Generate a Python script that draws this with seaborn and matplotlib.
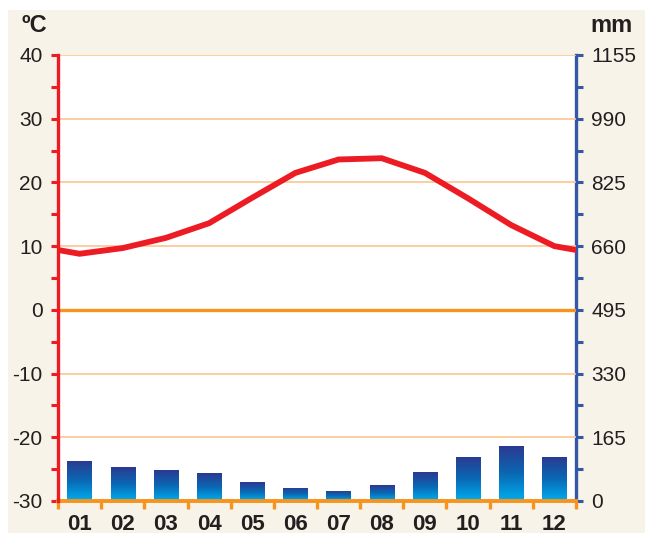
import matplotlib
matplotlib.use("Agg")
import matplotlib.pyplot as plt
import seaborn as sns
import numpy as np
import pandas as pd
from matplotlib.colors import LinearSegmentedColormap
from matplotlib.patches import Rectangle
from matplotlib.ticker import MultipleLocator, FixedLocator

months = ["01", "02", "03", "04", "05", "06", "07", "08", "09", "10", "11", "12"]
temperature = [8.8, 9.7, 11.3, 13.6, 17.6, 21.5, 23.6, 23.8, 21.5, 17.5, 13.3, 10.0]
precipitation = [104, 88, 80, 72, 49, 34, 26, 41, 75, 114, 142, 114]
temp_ticks = [-30, -20, -10, 0, 10, 20, 30, 40]
mm_ticks = [0, 165, 330, 495, 660, 825, 990, 1155]

sns.set_theme(style="white")
plt.rcParams["font.family"] = ["Liberation Sans", "DejaVu Sans"]

RED = "#ed1c24"
BLUE = "#3458a8"
ORANGE = "#f7941d"
GRID = "#fcc690"
TEXT = "#231f20"
BEIGE = "#f7f3e8"

fig = plt.figure(figsize=(6.45, 5.33), dpi=100, facecolor="white")
fig.patches.append(Rectangle((8 / 645, 0), 1, 523 / 533, transform=fig.transFigure,
                             facecolor=BEIGE, edgecolor="none", zorder=-10))

ax = fig.add_axes([58 / 645, 32 / 533, 518 / 645, 446 / 533])
ax2 = ax.twinx()
ax2.set_zorder(ax.get_zorder() - 1)
ax.set_zorder(ax2.get_zorder() + 1)
ax.patch.set_visible(False)
ax2.patch.set_visible(True)
ax2.patch.set_facecolor("white")

# Bars (precipitation)
dfp = pd.DataFrame({"month": months, "mm": precipitation})
sns.barplot(data=dfp, x="month", y="mm", ax=ax2, width=0.56, color="#0a5aa8",
            edgecolor="none", linewidth=0, zorder=2)

cmap = LinearSegmentedColormap.from_list("g", ["#00aeef", "#0a68b4", "#2b3990"])
grad = np.linspace(0, 1, 256).reshape(-1, 1)
for p in list(ax2.patches):
    x0, y0 = p.get_x(), p.get_y()
    w, h = p.get_width(), p.get_height()
    im = ax2.imshow(grad, extent=[x0, x0 + w, y0, y0 + h], origin="lower",
                    aspect="auto", cmap=cmap, zorder=3)
    im.set_clip_path(p)

# Temperature line, extended to edges with Dec/Jan mean
edge = (temperature[0] + temperature[-1]) / 2
dft = pd.DataFrame({"x": [-0.5] + list(range(12)) + [11.5],
                    "t": [edge] + temperature + [edge]})
sns.lineplot(data=dft, x="x", y="t", ax=ax, color=RED, linewidth=4.2,
             solid_joinstyle="miter", zorder=5)

# grid lines
for t in temp_ticks:
    if t == 0:
        ax.axhline(t, color=ORANGE, linewidth=2.4, zorder=4)
    elif t != -30:
        ax.axhline(t, color=GRID, linewidth=1.2, zorder=1)

ax.set_xlim(-0.5, 11.5)
ax2.set_xlim(-0.5, 11.5)
ax.set_ylim(-30, 40)
ax2.set_ylim(0, 1155)

ax.set_xlabel("")
ax.set_ylabel("")
ax2.set_xlabel("")
ax2.set_ylabel("")

# spines
for s in ["top"]:
    ax.spines[s].set_visible(False)
    ax2.spines[s].set_visible(False)
ax.spines["right"].set_visible(False)
ax2.spines["left"].set_visible(False)
ax2.spines["bottom"].set_visible(False)
ax.spines["left"].set_color(RED)
ax.spines["left"].set_linewidth(2.4)
ax2.spines["right"].set_color(BLUE)
ax2.spines["right"].set_linewidth(2.4)
ax.spines["bottom"].set_color(ORANGE)
ax.spines["bottom"].set_linewidth(2.8)
ax.spines["left"].set_zorder(6)
ax.spines["bottom"].set_zorder(5)

# left ticks
ax.yaxis.set_major_locator(FixedLocator(temp_ticks))
ax.yaxis.set_minor_locator(MultipleLocator(5))
ax.set_yticklabels([str(t) for t in temp_ticks])
ax.tick_params(axis="y", which="both", left=True, direction="out", color=RED,
               length=5, width=2.2, labelsize=15, labelcolor=TEXT, pad=6)

# right ticks
ax2.yaxis.set_major_locator(FixedLocator(mm_ticks))
ax2.yaxis.set_minor_locator(MultipleLocator(82.5))
ax2.set_yticklabels([str(t) for t in mm_ticks])
ax2.tick_params(axis="y", which="both", right=True, direction="out", color=BLUE,
                length=5, width=2.2, labelsize=15, labelcolor=TEXT, pad=6)

# bottom ticks
ax.xaxis.set_major_locator(FixedLocator(range(12)))
ax.set_xticklabels(months)
ax.xaxis.set_minor_locator(FixedLocator(np.arange(-0.5, 12, 1)))
ax.tick_params(axis="x", which="major", bottom=True, length=0, labelsize=16,
               labelcolor=TEXT, pad=9)
for lab in ax.get_xticklabels():
    lab.set_fontweight("bold")
ax.tick_params(axis="x", which="minor", bottom=True, direction="out", color=ORANGE,
               length=6, width=2.4)
ax2.tick_params(axis="x", which="both", bottom=False, labelbottom=False)

fig.text(22 / 645, 1 - 25 / 533, "ºC", fontsize=17, fontweight="bold", color=TEXT,
         ha="left", va="center")
fig.text(611 / 645, 1 - 26 / 533, "mm", fontsize=17, fontweight="bold", color=TEXT,
         ha="center", va="center")

fig.savefig("out.png", dpi=100, facecolor="white")
